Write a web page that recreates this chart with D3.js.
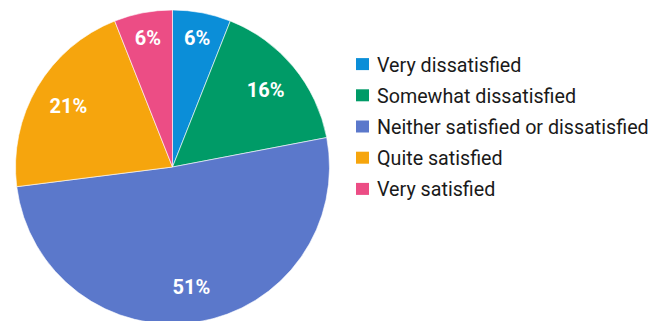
<!DOCTYPE html>
<html>
<head>
<meta charset="utf-8">
<script src="https://cdn.jsdelivr.net/npm/d3@7"></script>
<style>
  html, body { margin: 0; padding: 0; background: #fff; }
  svg { display: block; }
</style>
</head>
<body>
<svg id="chart" width="666" height="321"></svg>
<script>
// Satisfaction survey shares (percent), in clockwise order from 12 o'clock
const categories = [
  "Very dissatisfied",
  "Somewhat dissatisfied",
  "Neither satisfied or dissatisfied",
  "Quite satisfied",
  "Very satisfied"
];
const values = [6, 16, 51, 21, 6];
const colors = ["#0b8ed8", "#009b67", "#5b78cb", "#f6a50d", "#ec4d85"];

const svg = d3.select("#chart");
const cx = 172.5, cy = 167, radius = 157;

const color = d3.scaleOrdinal().domain(categories).range(colors);

const data = categories.map((c, i) => ({ category: c, value: values[i] }));

const pie = d3.pie().value(d => d.value).sort(null);
const arcs = pie(data);

const arc = d3.arc().innerRadius(0).outerRadius(radius);
// Narrow slices get their label pushed further out so it fits inside the wedge
const wideLabelArc = d3.arc().innerRadius(radius * 0.77).outerRadius(radius * 0.77);
const narrowLabelArc = d3.arc().innerRadius(radius * 0.84).outerRadius(radius * 0.84);
const labelPos = d => (d.endAngle - d.startAngle < 0.5 ? narrowLabelArc : wideLabelArc).centroid(d);

const g = svg.append("g").attr("transform", `translate(${cx},${cy})`);

g.selectAll("path.slice")
  .data(arcs)
  .join("path")
  .attr("class", "slice")
  .attr("d", arc)
  .attr("fill", d => color(d.data.category))
  .attr("stroke", "#ffffff")
  .attr("stroke-width", 0.6);

g.selectAll("text.pct")
  .data(arcs)
  .join("text")
  .attr("class", "pct")
  .attr("transform", d => `translate(${labelPos(d)})`)
  .attr("text-anchor", "middle")
  .attr("dy", "0.36em")
  .attr("fill", "#ffffff")
  .style("font-family", "Roboto, 'Open Sans', sans-serif")
  .style("font-weight", 700)
  .style("font-size", "20px")
  .text(d => d.data.value + "%");

// Legend
const legendY = d3.scaleBand().domain(categories).range([49, 205]);
const legend = svg.append("g").attr("transform", "translate(356,0)");

const items = legend.selectAll("g.item")
  .data(categories)
  .join("g")
  .attr("class", "item")
  .attr("transform", d => `translate(0,${legendY(d) + legendY.bandwidth() / 2})`);

items.append("rect")
  .attr("x", 0)
  .attr("y", -6.5)
  .attr("width", 13)
  .attr("height", 12)
  .attr("fill", d => color(d));

items.append("text")
  .attr("x", 21)
  .attr("y", 0)
  .attr("dy", "0.36em")
  .attr("fill", "#1a1a1a")
  .style("font-family", "Roboto, 'Open Sans', sans-serif")
  .style("font-size", "19.7px")
  .text(d => d);
</script>
</body>
</html>
